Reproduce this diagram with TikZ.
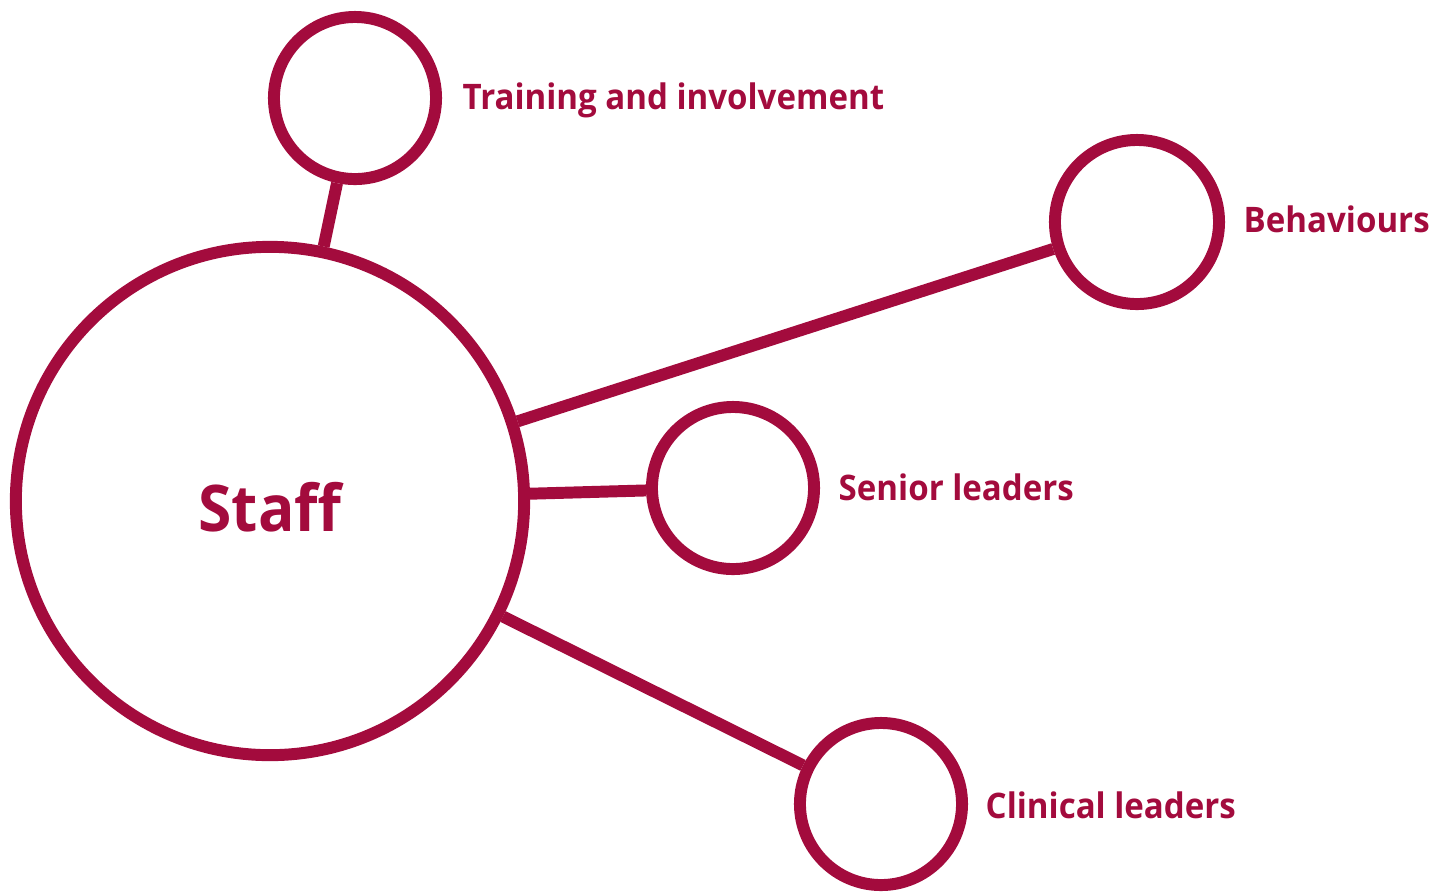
\documentclass[tikz,border=0pt]{standalone}
\usepackage{fontspec}
\setmainfont[FakeStretch=0.94]{Open Sans}
\usepackage{tikz}
\usetikzlibrary{positioning}
\definecolor{wine}{HTML}{A30B3D}
\tikzset{
	ring/.style={circle,draw=wine,line width=3.4pt,minimum size=#1,inner sep=0pt},
	spoke/.style={draw=wine,line width=3.4pt},
	tag/.style={text=wine,font=\bfseries\fontsize{10}{12}\selectfont,inner sep=0pt,anchor=west}
}

\begin{document}
\begin{tikzpicture}[x=0.01cm,y=-0.01cm]
	\useasboundingbox (0,0) rectangle (1432,893);
	\node[ring=5.08cm,text=wine,text height=0.62cm,font=\bfseries\fontsize{18.3}{20}\selectfont] (staff) at (270,501) {Staff};
	\node[ring=1.62cm] (train) at (355,98) {};
	\node[ring=1.64cm] (behav) at (1137,222) {};
	\node[ring=1.62cm] (senior) at (733,488) {};
	\node[ring=1.62cm] (clin) at (881,804) {};
	\draw[spoke] (staff) -- (train);
	\draw[spoke] (staff) -- (behav);
	\draw[spoke] (staff) -- (senior);
	\draw[spoke] (staff) -- (clin);
	\node[tag,right=0.2cm of train,yshift=-0.02cm] (traintxt) {Training and involvement};
	\node[tag,right=0.18cm of behav,yshift=0.03cm] (behavtxt) {Behaviours};
	\node[tag,right=0.18cm of senior,yshift=0.01cm] (seniortxt) {Senior leaders};
	\node[tag,right=0.17cm of clin,yshift=-0.01cm] (clintxt) {Clinical leaders};
\end{tikzpicture}
\end{document}
